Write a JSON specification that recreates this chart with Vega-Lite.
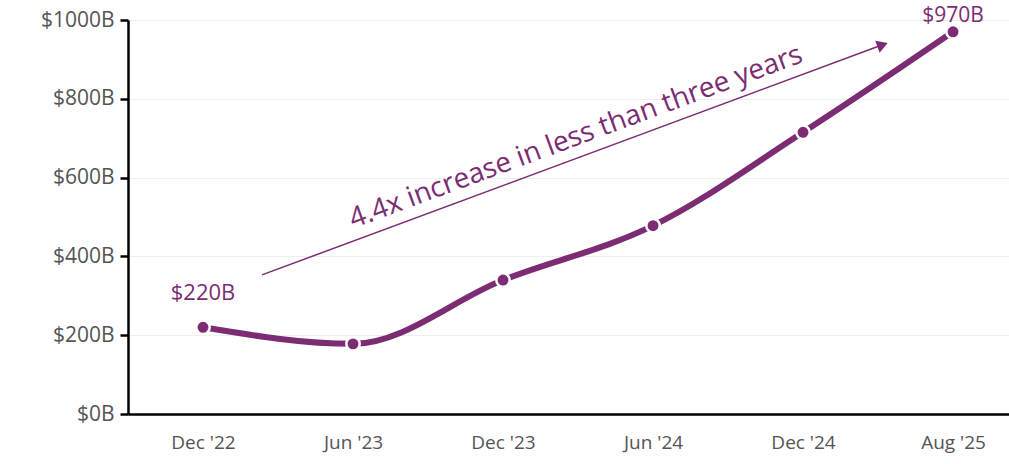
{
  "$schema": "https://vega.github.io/schema/vega-lite/v6.json",
  "width": 881,
  "height": 394,
  "autosize": {"type": "none"},
  "padding": {"left": 128, "top": 20, "right": 0, "bottom": 50},
  "background": "white",
  "config": {
    "view": {"stroke": null},
    "font": "Open Sans"
  },
  "datasets": {
    "series": [
      {"i": 0, "period": "Dec '22", "value": 220, "label": "$220B"},
      {"i": 1, "period": "Jun '23", "value": 178, "label": ""},
      {"i": 2, "period": "Dec '23", "value": 340, "label": ""},
      {"i": 3, "period": "Jun '24", "value": 478, "label": ""},
      {"i": 4, "period": "Dec '24", "value": 715, "label": ""},
      {"i": 5, "period": "Aug '25", "value": 970, "label": "$970B"}
    ],
    "arrow": [
      {"x": 0.393, "y": 353, "x2": 4.53, "y2": 937}
    ],
    "arrowhead": [
      {"x": 4.53, "y": 937}
    ],
    "note": [
      {"x": 2.487, "y": 702, "text": "4.4x increase in less than three years"}
    ]
  },
  "layer": [
    {
      "data": {"name": "series"},
      "mark": {"type": "line", "color": "#7B2C73", "strokeWidth": 6, "interpolate": "monotone"},
      "encoding": {
        "x": {
          "field": "i", "type": "quantitative",
          "scale": {"domain": [-0.5, 5.373], "nice": false, "zero": false},
          "axis": {
            "title": null, "grid": false, "ticks": false,
            "values": [0, 1, 2, 3, 4, 5],
            "labelExpr": "[\"Dec '22\",\"Jun '23\",\"Dec '23\",\"Jun '24\",\"Dec '24\",\"Aug '25\"][datum.value]",
            "domainColor": "#000000", "domainWidth": 2.5,
            "labelColor": "#555555", "labelFontSize": 19, "labelPadding": 19
          }
        },
        "y": {
          "field": "value", "type": "quantitative",
          "scale": {"domain": [0, 1000], "nice": false},
          "axis": {
            "title": null,
            "values": [0, 200, 400, 600, 800, 1000],
            "labelExpr": "'$' + datum.value + 'B'",
            "grid": true, "gridColor": "#eeeeee", "gridWidth": 1,
            "domainColor": "#000000", "domainWidth": 2.5,
            "tickColor": "#000000", "tickWidth": 2.5, "tickSize": 8,
            "labelColor": "#555555", "labelFontSize": 21, "labelPadding": 6
          }
        }
      }
    },
    {
      "data": {"name": "series"},
      "mark": {"type": "point", "filled": true, "color": "#7B2C73", "size": 180, "stroke": "white", "strokeWidth": 2.5, "opacity": 1},
      "encoding": {
        "x": {"field": "i", "type": "quantitative"},
        "y": {"field": "value", "type": "quantitative"}
      }
    },
    {
      "data": {"name": "series"},
      "transform": [{"filter": "datum.i == 0"}],
      "mark": {"type": "text", "color": "#7B2C73", "fontSize": 22, "dy": -34, "baseline": "middle"},
      "encoding": {
        "x": {"field": "i", "type": "quantitative"},
        "y": {"field": "value", "type": "quantitative"},
        "text": {"field": "label"}
      }
    },
    {
      "data": {"name": "series"},
      "transform": [{"filter": "datum.i == 5"}],
      "mark": {"type": "text", "color": "#7B2C73", "fontSize": 21, "dy": -16, "baseline": "middle"},
      "encoding": {
        "x": {"field": "i", "type": "quantitative"},
        "y": {"field": "value", "type": "quantitative"},
        "text": {"field": "label"}
      }
    },
    {
      "data": {"name": "arrow"},
      "mark": {"type": "rule", "color": "#7B2C73", "strokeWidth": 1.5},
      "encoding": {
        "x": {"field": "x", "type": "quantitative"},
        "y": {"field": "y", "type": "quantitative"},
        "x2": {"field": "x2"},
        "y2": {"field": "y2"}
      }
    },
    {
      "data": {"name": "arrowhead"},
      "mark": {"type": "point", "shape": "triangle-right", "filled": true, "color": "#7B2C73", "size": 160, "angle": -20.3, "opacity": 1},
      "encoding": {
        "x": {"field": "x", "type": "quantitative"},
        "y": {"field": "y", "type": "quantitative"}
      }
    },
    {
      "data": {"name": "note"},
      "mark": {"type": "text", "color": "#7B2C73", "fontSize": 28, "angle": -20.3, "align": "center", "baseline": "middle"},
      "encoding": {
        "x": {"field": "x", "type": "quantitative"},
        "y": {"field": "y", "type": "quantitative"},
        "text": {"field": "text"}
      }
    }
  ]
}
